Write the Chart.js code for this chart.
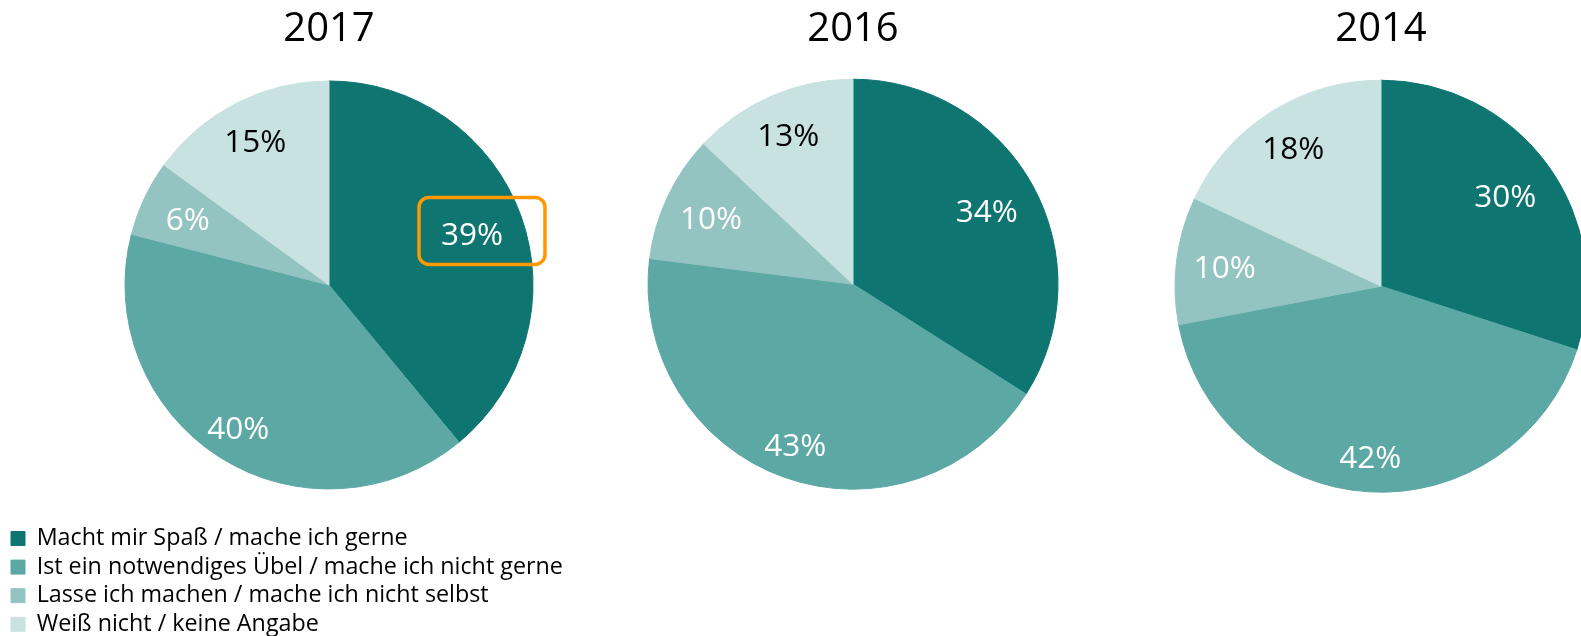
<!DOCTYPE html>
<html>
<head>
<meta charset="utf-8">
<script src="https://cdn.jsdelivr.net/npm/chart.js@4/dist/chart.umd.min.js"></script>
<style>
html,body{margin:0;padding:0;background:#fff;overflow:hidden;width:1581px;height:636px}
#wrap{position:relative;width:1581px;height:636px;overflow:hidden}
canvas{position:absolute;top:0}
</style>
</head>
<body>
<div id="wrap">
<canvas id="c2017" width="658" height="646" style="left:0px"></canvas>
<canvas id="c2016" width="500" height="520" style="left:603px"></canvas>
<canvas id="c2014" width="500" height="524" style="left:1131px"></canvas>
</div>
<script>
const categories = [
  'Macht mir Spaß / mache ich gerne',
  'Ist ein notwendiges Übel / mache ich nicht gerne',
  'Lasse ich machen / mache ich nicht selbst',
  'Weiß nicht / keine Angabe'
];
const years = ['2017', '2016', '2014'];
const values2017 = [39, 40, 6, 15];
const values2016 = [34, 43, 10, 13];
const values2014 = [30, 42, 10, 18];

const sliceColors = ['#0E7571', '#5CA8A4', '#94C4C1', '#C8E1E1'];
const labelColors = ['#FFFFFF', '#FFFFFF', '#FFFFFF', '#000000'];

Chart.defaults.font.family = '"Open Sans", sans-serif';
Chart.defaults.color = '#000';

function roundRectPath(ctx, x, y, w, h, r) {
  ctx.beginPath();
  ctx.moveTo(x + r, y);
  ctx.lineTo(x + w - r, y);
  ctx.arcTo(x + w, y, x + w, y + r, r);
  ctx.lineTo(x + w, y + h - r);
  ctx.arcTo(x + w, y + h, x + w - r, y + h, r);
  ctx.lineTo(x + r, y + h);
  ctx.arcTo(x, y + h, x, y + h - r, r);
  ctx.lineTo(x, y + r);
  ctx.arcTo(x, y, x + r, y, r);
  ctx.closePath();
}

const pctLabels = {
  id: 'pctLabels',
  afterDatasetsDraw(chart, args, opts) {
    const ctx = chart.ctx;
    const meta = chart.getDatasetMeta(0);
    const ds = chart.data.datasets[0];
    ctx.save();
    ctx.font = opts.size + 'px "Open Sans"';
    ctx.textAlign = 'center';
    ctx.textBaseline = 'alphabetic';
    meta.data.forEach((arc, i) => {
      const p = arc.getProps(['x', 'y', 'startAngle', 'endAngle', 'outerRadius'], true);
      const mid = (p.startAngle + p.endAngle) / 2;
      const f = opts.radii[i];
      const lx = p.x + Math.cos(mid) * p.outerRadius * f;
      const ly = p.y + Math.sin(mid) * p.outerRadius * f;
      ctx.fillStyle = opts.colors[i];
      ctx.fillText(ds.data[i] + '%', lx, ly + opts.size * 0.357);
      if (opts.highlight === i) {
        ctx.strokeStyle = '#FF9900';
        ctx.lineWidth = 3.5;
        roundRectPath(ctx, lx + 10 - 63, ly - 2.6 - 33.5, 126, 67, 10);
        ctx.stroke();
      }
    });
    ctx.restore();
  }
};

function makeChart(id, year, values, radius, showLegend, padding, highlight) {
  return new Chart(document.getElementById(id), {
    type: 'pie',
    data: {
      labels: categories,
      datasets: [{
        data: values,
        backgroundColor: sliceColors,
        borderColor: sliceColors,
        borderWidth: 1,
        hoverOffset: 0,
        radius: radius
      }]
    },
    options: {
      responsive: false,
      animation: false,
      events: [],
      layout: { padding: padding },
      plugins: {
        title: {
          display: true,
          text: year,
          color: '#000',
          font: { size: 40, weight: 'normal', lineHeight: 0.925 },
          padding: { top: 11.4, bottom: 0 }
        },
        legend: {
          display: showLegend,
          position: 'bottom',
          align: 'start',
          labels: {
            boxWidth: 14,
            boxHeight: 14,
            padding: 5.3,
            color: '#000',
            font: { size: 23.3 }
          }
        },
        tooltip: { enabled: false },
        pctLabels: {
          size: 31.5,
          colors: labelColors,
          radii: [0.745, 0.83, 0.765, 0.795],
          highlight: highlight
        }
      }
    },
    plugins: [pctLabels]
  });
}

makeChart('c2017', years[0], values2017, 204, true, { left: 5.7, right: 5.7, top: 0, bottom: 0.05 }, 0);
makeChart('c2016', years[1], values2016, 205, false, { left: 0, right: 0, top: 0, bottom: 0 }, -1);
makeChart('c2014', years[2], values2014, 206, false, { left: 0, right: 0, top: 0, bottom: 0 }, -1);
</script>
</body>
</html>
